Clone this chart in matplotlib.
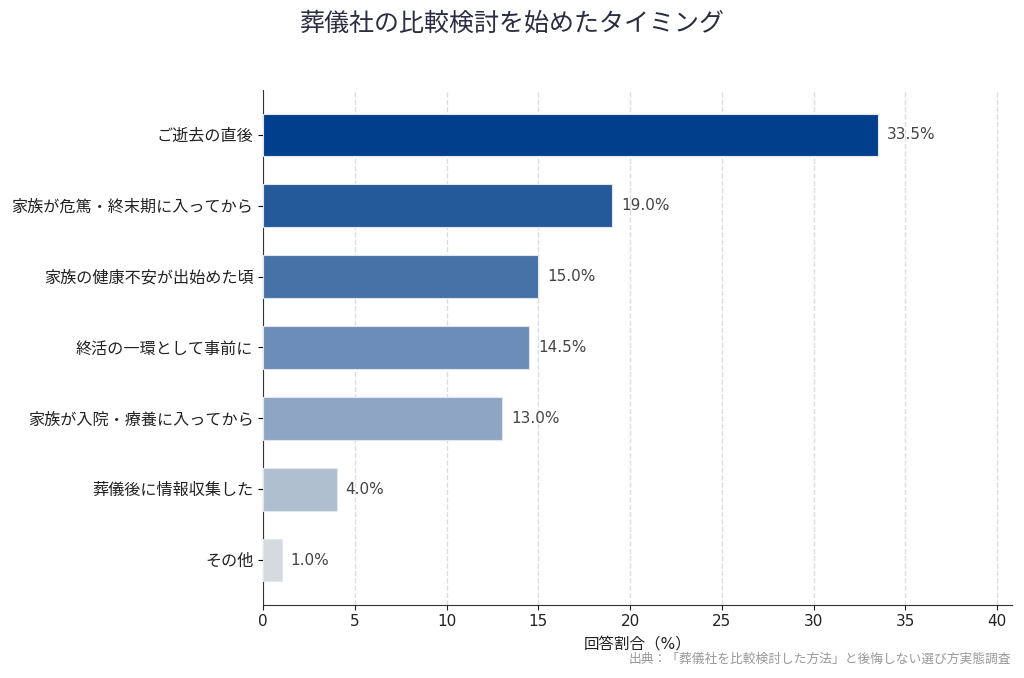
import matplotlib
matplotlib.use('Agg')
import matplotlib.pyplot as plt

plt.rcParams['font.family'] = ['DejaVu Sans', 'Noto Sans CJK JP']

categories = ['ご逝去の直後', '家族が危篤・終末期に入ってから', '家族の健康不安が出始めた頃',
              '終活の一環として事前に', '家族が入院・療養に入ってから', '葬儀後に情報収集した', 'その他']
values = [33.5, 19.0, 15.0, 14.5, 13.0, 4.0, 1.0]
colors = ['#003f8c', '#245a9a', '#4672a8', '#6b8db8', '#8fa5c4', '#b0bfd0', '#d5dadf']
xticks = [0, 5, 10, 15, 20, 25, 30, 35, 40]

fig = plt.figure(figsize=(10.24, 6.78), dpi=100)
ax = fig.add_axes([0.257, 0.108, 0.731, 0.759])

ypos = list(range(len(categories)))
ax.barh(ypos, values, height=0.6, color=colors, edgecolor='#dfe6f0', linewidth=0.8, zorder=3)
ax.invert_yaxis()
ax.set_yticks(ypos)
ax.set_yticklabels(categories, fontsize=11.6, color='#222222')

for y, v in zip(ypos, values):
    ax.text(v + 0.5, y, f'{v:.1f}%', va='center', ha='left', fontsize=11, color='#444444')

ax.set_xlim(0, 40.8)
ax.set_xticks(xticks)
ax.tick_params(axis='x', labelsize=11, colors='#222222')
ax.xaxis.grid(True, linestyle='--', color='#dddddd', linewidth=1, zorder=0)
ax.set_axisbelow(True)

for side in ['top', 'right']:
    ax.spines[side].set_visible(False)
ax.spines['left'].set_color('#333333')
ax.spines['bottom'].set_color('#333333')

ax.set_xlabel('回答割合（%）', fontsize=11.2, color='#222222', labelpad=6)
fig.suptitle('葬儀社の比較検討を始めたタイミング', fontsize=18, color='#2b2d42', y=0.983, va='top')
fig.text(0.987, 0.018, '出典：「葬儀社を比較検討した方法」と後悔しない選び方実態調査',
         ha='right', va='bottom', fontsize=9.2, color='#999999')

fig.savefig('out.png', dpi=100)
